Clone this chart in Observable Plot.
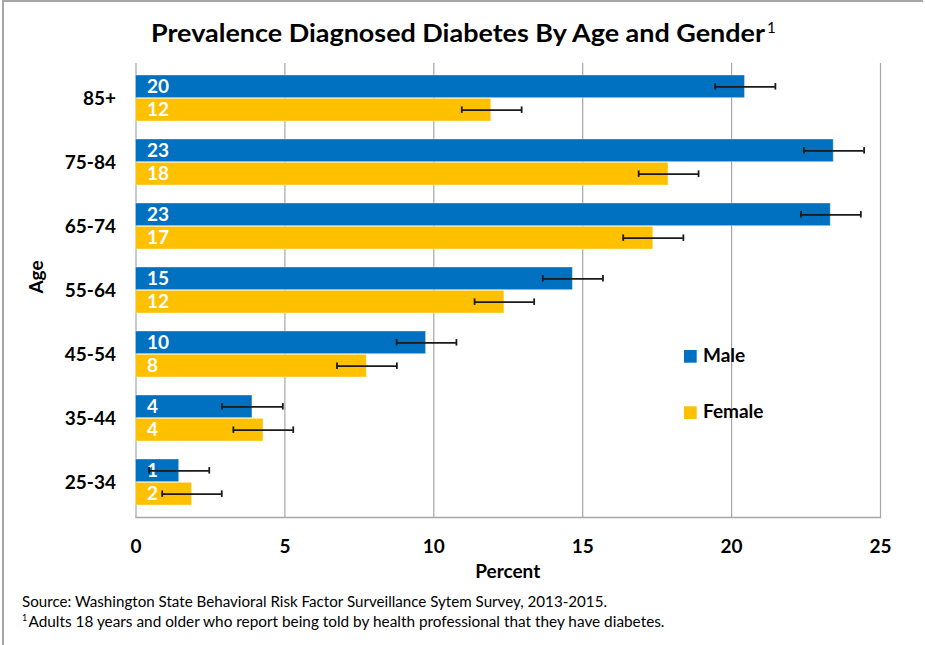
<!DOCTYPE html>
<html>
<head>
<meta charset="utf-8">
<script src="https://cdn.jsdelivr.net/npm/d3@7"></script>
<script src="https://cdn.jsdelivr.net/npm/@observablehq/plot@0.6"></script>
<style>
  body { margin: 0; background: #fff; }
  #wrap { position: relative; width: 925px; height: 645px; overflow: hidden; background: #fff; }
  #frame { position: absolute; left: 2px; top: 0; width: 921px; height: 645px;
           border-left: 2px solid #a6a6a6; border-top: 2px solid #a6a6a6; box-sizing: border-box; pointer-events: none; }
  svg { font-family: Lato, "Open Sans", sans-serif; color: #000; }
</style>
</head>
<body>
<div id="wrap"><div id="frame"></div></div>
<script>
// ---- data ----
const ages = ["85+", "75-84", "65-74", "55-64", "45-54", "35-44", "25-34"];
const genders = ["Male", "Female"];
const maleValues   = [20.45, 23.43, 23.33, 14.67, 9.74, 3.91, 1.45];
const femaleValues = [11.93, 17.88, 17.37, 12.37, 7.75, 4.28, 1.88];
const maleLow    = [19.45, 22.43, 22.33, 13.66, 8.75, 2.89, 0.44];
const maleHigh   = [21.47, 24.45, 24.34, 15.68, 10.76, 4.93, 2.46];
const femaleLow  = [10.94, 16.88, 16.36, 11.37, 6.75, 3.27, 0.88];
const femaleHigh = [12.95, 18.89, 18.38, 13.37, 8.76, 5.28, 2.88];
const maleLabels   = ["20", "23", "23", "15", "10", "4", "1"];
const femaleLabels = ["12", "18", "17", "12", "8", "4", "2"];
const xTicks = [0, 5, 10, 15, 20, 25];
const colors = ["#0070C0", "#FFC000"];
const titleText = "Prevalence Diagnosed Diabetes By Age and Gender";
const sourceText = "Source: Washington State Behavioral Risk Factor Surveillance Sytem Survey, 2013-2015.";
const noteText = "Adults 18 years and older who report being told by health professional that they have diabetes.";

const maleRows = ages.map((a, i) => ({age: a, gender: "Male", value: maleValues[i], lo: maleLow[i], hi: maleHigh[i], label: maleLabels[i]}));
const femaleRows = ages.map((a, i) => ({age: a, gender: "Female", value: femaleValues[i], lo: femaleLow[i], hi: femaleHigh[i], label: femaleLabels[i]}));

// ---- layout ----
const W = 925, H = 645;
const mTop = 63, mBottom = 128, mLeft = 135.5, mRight = 45;
const step = (H - mTop - mBottom) / 7;
const bw = step * 0.72;
const half = bw / 2;
const off = half / 2;      // center offset of each sub-bar from band center
const cap = 3.6;           // half-height of error bar caps

const errMarks = (rows, sign) => {
  const c = half / 2 + (sign < 0 ? 0 : half); // center of sub-bar from band top
  const insTop = c - cap, insBot = bw - (c + cap);
  return [
    Plot.ruleY(rows, {y: "age", x1: "lo", x2: "hi", dy: sign * off, stroke: "#1a1a1a", strokeWidth: 1.6}),
    Plot.tickX(rows, {x: "lo", y: "age", insetTop: insTop, insetBottom: insBot, stroke: "#1a1a1a", strokeWidth: 1.8}),
    Plot.tickX(rows, {x: "hi", y: "age", insetTop: insTop, insetBottom: insBot, stroke: "#1a1a1a", strokeWidth: 1.8})
  ];
};

const chart = Plot.plot({
  width: W, height: H,
  marginTop: mTop, marginBottom: mBottom, marginLeft: mLeft, marginRight: mRight,
  x: {domain: [0, 25], ticks: xTicks, label: null},
  y: {domain: ages, paddingInner: 0.28, paddingOuter: 0.14, label: null},
  color: {domain: genders, range: colors},
  style: {background: "transparent", fontFamily: "Lato, 'Open Sans', sans-serif"},
  marks: [
    Plot.ruleX(xTicks, {stroke: "#a6a6a6", strokeWidth: 1.2}),
    Plot.barX(maleRows, {x: "value", y: "age", fill: "gender", insetBottom: half, stroke: "#ffffff", strokeOpacity: 0.35, strokeWidth: 1}),
    Plot.barX(femaleRows, {x: "value", y: "age", fill: "gender", insetTop: half, stroke: "#ffffff", strokeOpacity: 0.35, strokeWidth: 1}),
    Plot.text(maleRows, {x: () => 0, y: "age", text: "label", dy: -off, dx: 11, textAnchor: "start", fill: "#fff", fontWeight: "bold", fontSize: 19}),
    Plot.text(femaleRows, {x: () => 0, y: "age", text: "label", dy: off, dx: 11, textAnchor: "start", fill: "#fff", fontWeight: "bold", fontSize: 19}),
    ...errMarks(maleRows, -1),
    ...errMarks(femaleRows, 1),
    Plot.frame({anchor: "bottom", stroke: "#a6a6a6", strokeWidth: 1.5}),
    Plot.axisX({ticks: xTicks, tickSize: 0, tickPadding: 22, fontSize: 19, fontWeight: "bold", label: null}),
    Plot.axisY({tickSize: 0, tickPadding: 20, fontSize: 19, fontWeight: "bold", label: null})
  ]
});

const svg = d3.select(chart);
const g = svg.append("g").attr("font-family", "Lato, 'Open Sans', sans-serif").attr("fill", "#000").attr("text-anchor", "start");

// title
g.append("text").attr("x", 151).attr("y", 42).attr("font-size", 24.5).attr("font-weight", "bold").attr("text-anchor", "start")
  .attr("textLength", 614).attr("lengthAdjust", "spacingAndGlyphs").text(titleText);
g.append("text").attr("x", 767).attr("y", 33).attr("font-size", 15).attr("text-anchor", "start").text("1");

// axis titles
g.append("text").attr("x", (mLeft + W - mRight) / 2).attr("y", 578).attr("text-anchor", "middle")
  .attr("font-size", 19).attr("font-weight", "bold").text("Percent");
g.append("text").attr("transform", "translate(43,277) rotate(-90)").attr("text-anchor", "middle")
  .attr("font-size", 19).attr("font-weight", "bold").text("Age");

// legend
genders.forEach((name, i) => {
  const y0 = 350 + i * 56.3;
  g.append("rect").attr("x", 684).attr("y", y0).attr("width", 12.7).attr("height", 12.7).attr("fill", colors[i]);
  g.append("text").attr("x", 703).attr("y", y0 + 12).attr("font-size", 19).attr("font-weight", "bold").attr("text-anchor", "start").text(name);
});

// source / note
g.append("text").attr("x", 22).attr("y", 606.5).attr("font-size", 14.5).attr("text-anchor", "start")
  .attr("textLength", 585).attr("lengthAdjust", "spacingAndGlyphs").text(sourceText);
g.append("text").attr("x", 22).attr("y", 621).attr("font-size", 9).attr("text-anchor", "start").text("1");
g.append("text").attr("x", 28.5).attr("y", 626.5).attr("font-size", 14.5).attr("text-anchor", "start")
  .attr("textLength", 636).attr("lengthAdjust", "spacingAndGlyphs").text(noteText);

document.getElementById("wrap").prepend(chart);
</script>
</body>
</html>
